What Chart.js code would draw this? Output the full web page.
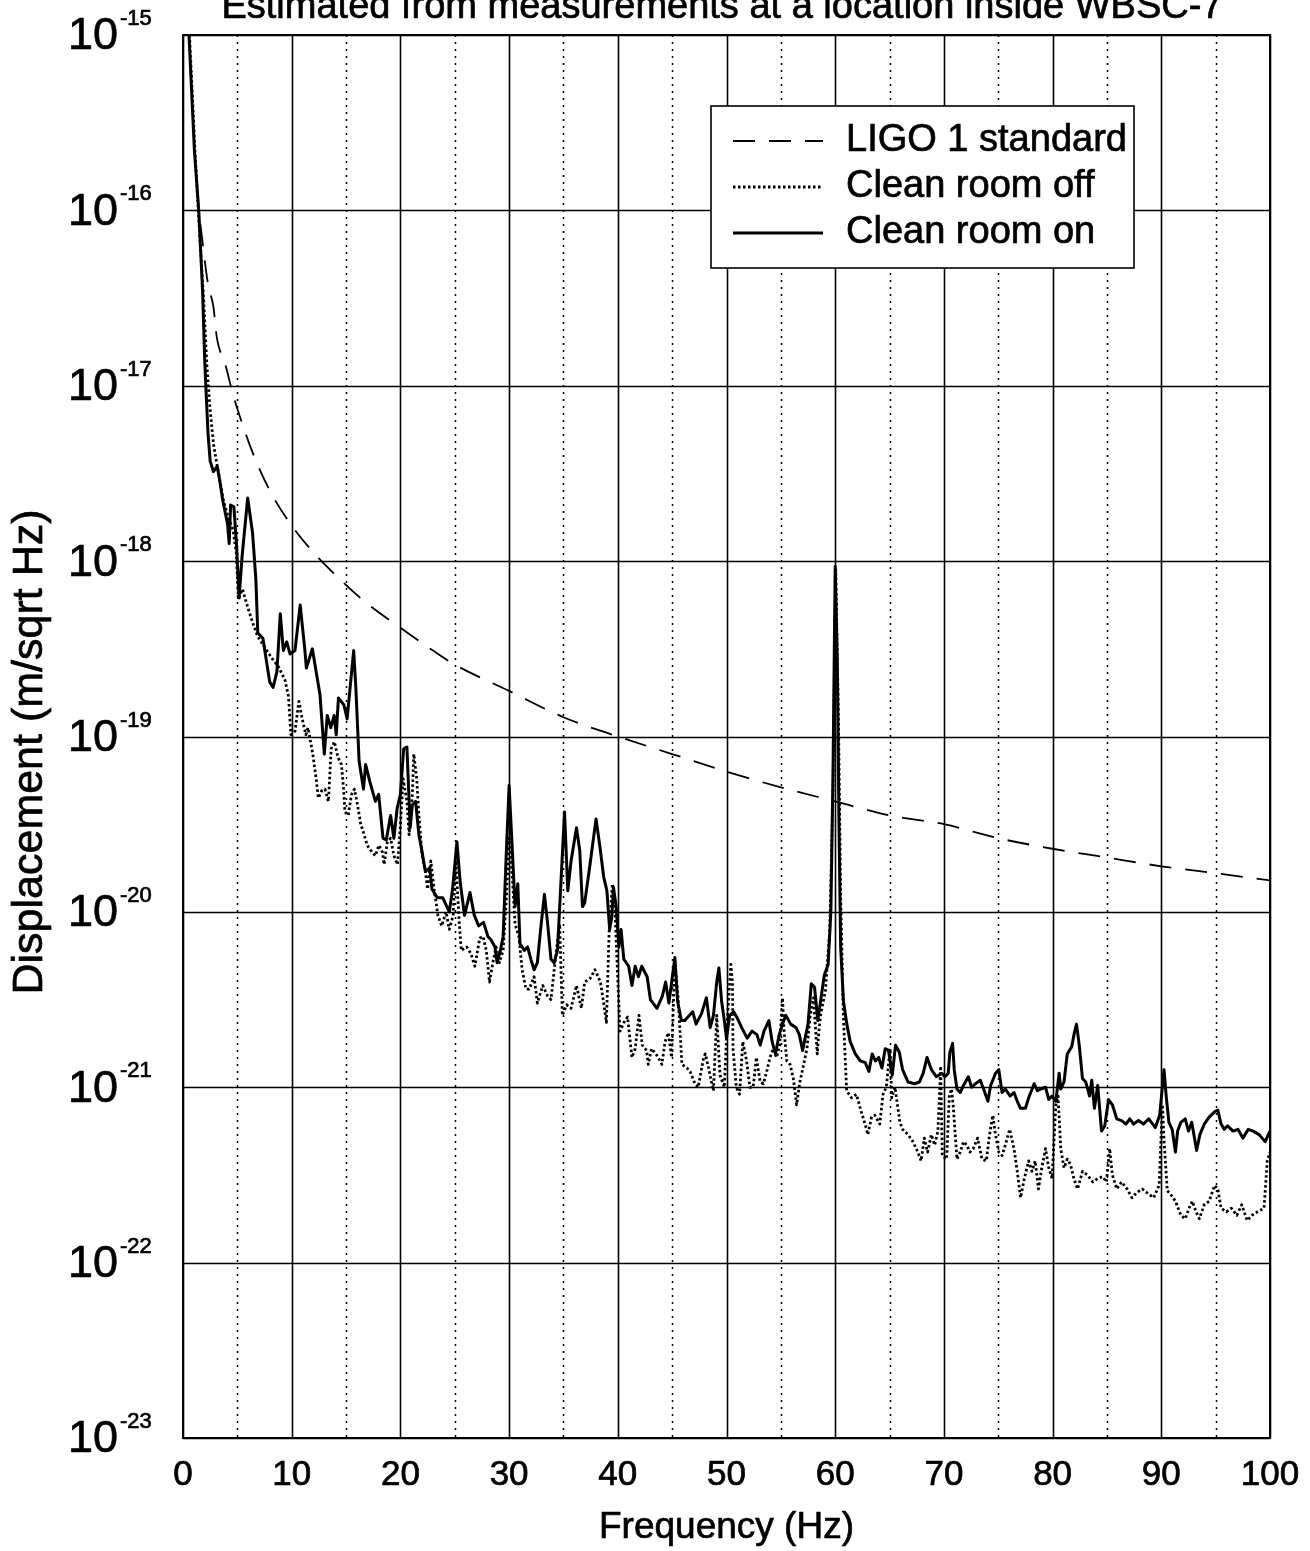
<!DOCTYPE html>
<html>
<head>
<meta charset="utf-8">
<title>Displacement spectrum, WBSC-7</title>
<script src="https://cdn.jsdelivr.net/npm/chart.js@4.4.1/dist/chart.umd.min.js"></script>
<style>
  html, body { margin: 0; padding: 0; background: #fff; }
  #wrap { width: 1310px; height: 1551px; position: relative; }
</style>
</head>
<body>
<div id="wrap"><canvas id="spectrum"></canvas></div>
<script>
// axis ticks
const freqTicks = [0, 10, 20, 30, 40, 50, 60, 70, 80, 90, 100];
const halfTicks = [5, 15, 25, 35, 45, 55, 65, 75, 85, 95];
const decadeExps = [-15, -16, -17, -18, -19, -20, -21, -22, -23];

const seriesNames = ['LIGO 1 standard', 'Clean room off', 'Clean room on'];

// points are [frequency (Hz), log10 of displacement (m/sqrt Hz)]
const ligoStandard = [
  [1.6,-16.08],[2.3,-16.42],[2.8,-16.55],[3.1,-16.72],[3.9,-16.88],[4.6,-17.05],[5.2,-17.17],
  [6.4,-17.38],[8.0,-17.6],[9.8,-17.78],[11.7,-17.93],[14.2,-18.09],[16.7,-18.23],[20,-18.38],
  [23,-18.51],[25,-18.59],[30,-18.74],[35,-18.89],[40,-19.0],[45,-19.1],[50,-19.2],[55,-19.29],
  [60,-19.37],[65,-19.45],[70,-19.5],[75,-19.58],[80,-19.64],[85,-19.69],[90,-19.74],[95,-19.78],[100,-19.82]
];

const cleanRoomOff = [
  [0.6,-15.0],[1.1,-15.66],[1.45,-16.05],[1.9,-16.51],[2.2,-16.89],[2.5,-17.14],[2.8,-17.33],[3.1,-17.44],
  [3.4,-17.54],[3.7,-17.65],[4.15,-17.75],[4.6,-17.82],[4.9,-17.95],[5.1,-18.22],[5.47,-18.16],[5.94,-18.26],
  [6.4,-18.35],[6.88,-18.43],[7.5,-18.49],[8.13,-18.55],[8.76,-18.6],[9.39,-18.68],[9.7,-18.77],[9.93,-18.99],
  [10.3,-18.97],[10.66,-18.8],[10.97,-18.9],[11.3,-18.99],[11.5,-18.95],[11.94,-19.1],[12.25,-19.24],[12.45,-19.35],
  [12.75,-19.31],[13.06,-19.3],[13.38,-19.37],[13.63,-19.07],[13.93,-19.03],[14.26,-19.12],[14.58,-19.16],[14.77,-19.3],
  [14.9,-19.43],[15.2,-19.45],[15.5,-19.33],[15.77,-19.3],[16.0,-19.37],[16.35,-19.5],[16.67,-19.56],[16.94,-19.62],
  [17.4,-19.66],[17.7,-19.68],[18.02,-19.62],[18.35,-19.66],[18.5,-19.73],[18.8,-19.6],[19.1,-19.58],[19.4,-19.68],
  [19.73,-19.73],[19.99,-19.52],[20.25,-19.24],[20.6,-19.37],[20.8,-19.56],[21.1,-19.33],[21.23,-19.1],[21.5,-19.24],
  [21.7,-19.45],[22.0,-19.68],[22.3,-19.77],[22.5,-19.87],[22.8,-19.71],[23.1,-19.87],[23.45,-20.02],[23.8,-20.08],
  [24.2,-20.0],[24.5,-20.1],[24.85,-20.02],[25.1,-19.71],[25.4,-20.05],[25.6,-20.22],[26.1,-20.2],[26.5,-20.24],
  [26.85,-20.31],[27.3,-20.15],[27.6,-20.14],[27.9,-20.22],[28.2,-20.4],[28.5,-20.29],[28.8,-20.2],[29.1,-20.29],
  [29.45,-20.22],[29.75,-19.92],[30.0,-19.58],[30.3,-19.8],[30.55,-20.07],[30.9,-20.14],[31.2,-20.33],[31.55,-20.44],
  [31.85,-20.44],[32.3,-20.37],[32.6,-20.52],[33.1,-20.42],[33.55,-20.48],[33.85,-20.5],[34.35,-20.22],[34.65,-20.07],
  [34.9,-20.59],[35.3,-20.53],[35.7,-20.55],[36.2,-20.42],[36.65,-20.55],[36.95,-20.4],[37.45,-20.38],[37.9,-20.33],
  [38.4,-20.4],[38.7,-20.52],[38.95,-20.63],[39.2,-20.12],[39.5,-19.84],[39.7,-19.93],[39.95,-20.31],[40.2,-20.68],
  [40.65,-20.62],[40.9,-20.6],[41.3,-20.83],[41.6,-20.78],[41.95,-20.59],[42.25,-20.76],[42.65,-20.79],[42.8,-20.87],
  [43.1,-20.78],[43.5,-20.81],[43.8,-20.84],[44.05,-20.87],[44.35,-20.74],[44.65,-20.69],[44.95,-20.83],[45.25,-20.28],
  [45.55,-20.49],[45.9,-20.87],[46.35,-20.89],[46.65,-20.91],[47.1,-20.98],[47.4,-21.0],[47.9,-20.83],[48.05,-20.81],
  [48.35,-20.89],[48.65,-20.98],[48.8,-21.02],[49.1,-20.59],[49.4,-20.93],[49.8,-21.0],[50.1,-20.59],[50.4,-20.3],
  [50.55,-20.4],[50.6,-20.78],[50.9,-21.0],[51.2,-21.04],[51.5,-20.74],[51.85,-20.85],[52.15,-21.0],[52.45,-21.0],
  [52.75,-20.83],[53.1,-20.97],[53.4,-20.98],[53.7,-20.91],[54.0,-20.83],[54.3,-20.78],[54.6,-20.83],[54.9,-20.76],
  [55.15,-20.49],[55.3,-20.68],[55.55,-20.85],[55.85,-20.87],[56.15,-20.95],[56.45,-21.1],[56.75,-20.97],[57.1,-20.87],
  [57.4,-20.78],[57.7,-20.59],[58.0,-20.49],[58.35,-20.81],[58.5,-20.68],[58.65,-20.59],[59.1,-20.45],[59.5,-20.1],
  [59.8,-19.3],[60.05,-18.05],[60.3,-18.9],[60.5,-19.9],[60.75,-20.59],[61.05,-21.02],[61.5,-21.06],[61.95,-21.04],
  [62.4,-21.14],[62.75,-21.21],[63.0,-21.27],[63.35,-21.17],[63.65,-21.16],[64.1,-21.21],[64.4,-21.04],[64.7,-21.0],
  [65.05,-20.78],[65.2,-21.06],[65.5,-21.0],[65.95,-21.2],[66.2,-21.24],[66.7,-21.27],[67.15,-21.31],[67.6,-21.37],
  [67.9,-21.42],[68.2,-21.29],[68.5,-21.37],[68.85,-21.27],[69.15,-21.33],[69.45,-21.25],[69.7,-20.88],[69.85,-21.39],
  [70.25,-21.41],[70.5,-21.05],[70.7,-21.01],[70.85,-21.1],[71.2,-21.41],[71.5,-21.37],[71.8,-21.31],[72.1,-21.33],
  [72.4,-21.37],[72.7,-21.35],[73.1,-21.29],[73.5,-21.41],[73.9,-21.42],[74.2,-21.27],[74.5,-21.16],[74.75,-21.27],
  [75.05,-21.37],[75.35,-21.39],[75.65,-21.33],[76.05,-21.24],[76.45,-21.35],[76.75,-21.48],[77.05,-21.63],[77.4,-21.52],
  [77.8,-21.42],[78.1,-21.48],[78.4,-21.42],[78.7,-21.58],[79.0,-21.46],[79.35,-21.35],[79.65,-21.46],[79.95,-21.52],
  [80.3,-21.1],[80.5,-21.05],[80.75,-21.35],[81.05,-21.46],[81.35,-21.41],[81.65,-21.44],[81.95,-21.52],[82.3,-21.58],
  [82.75,-21.48],[83.2,-21.5],[83.7,-21.54],[84.15,-21.52],[84.6,-21.51],[84.95,-21.54],[85.25,-21.35],[85.5,-21.5],
  [85.9,-21.58],[86.35,-21.54],[86.85,-21.58],[87.3,-21.63],[87.75,-21.6],[88.25,-21.58],[88.85,-21.61],[89.3,-21.63],
  [89.8,-21.56],[90.1,-21.1],[90.25,-21.3],[90.55,-21.59],[90.85,-21.61],[91.3,-21.65],[91.8,-21.73],[92.2,-21.75],
  [92.55,-21.69],[92.85,-21.65],[93.2,-21.71],[93.5,-21.75],[93.95,-21.67],[94.4,-21.65],[94.9,-21.56],[95.2,-21.58],
  [95.5,-21.69],[96.0,-21.71],[96.45,-21.69],[96.95,-21.73],[97.4,-21.67],[97.9,-21.76],[98.35,-21.73],[98.85,-21.71],
  [99.45,-21.69],[99.75,-21.42],[100.0,-21.37]
];

const cleanRoomOn = [
  [0.55,-15.0],[1.05,-15.66],[1.45,-16.0],[1.8,-16.46],[2.0,-16.86],[2.15,-17.07],[2.3,-17.27],[2.5,-17.43],
  [2.8,-17.49],[3.15,-17.46],[3.35,-17.53],[3.65,-17.65],[4.1,-17.79],[4.25,-17.9],[4.38,-17.68],[4.68,-17.69],
  [4.93,-17.91],[5.16,-18.21],[5.44,-17.97],[5.95,-17.64],[6.4,-17.84],[6.7,-18.1],[6.88,-18.41],[7.35,-18.44],
  [7.98,-18.69],[8.29,-18.72],[8.64,-18.63],[8.95,-18.3],[9.23,-18.51],[9.54,-18.46],[9.85,-18.53],[10.3,-18.51],
  [10.78,-18.25],[11.2,-18.5],[11.35,-18.61],[11.9,-18.5],[12.3,-18.65],[12.6,-18.76],[13.0,-19.1],[13.27,-18.88],
  [13.6,-18.95],[13.9,-18.88],[14.1,-18.99],[14.3,-18.78],[14.8,-18.82],[15.1,-18.9],[15.7,-18.51],[15.9,-18.72],
  [16.2,-19.14],[16.6,-19.3],[16.8,-19.16],[17.2,-19.26],[17.7,-19.37],[18.0,-19.33],[18.4,-19.58],[18.7,-19.59],
  [19.1,-19.45],[19.4,-19.58],[19.7,-19.41],[20.0,-19.33],[20.3,-19.07],[20.6,-19.06],[20.9,-19.52],[21.1,-19.39],
  [21.4,-19.37],[21.7,-19.56],[22.0,-19.66],[22.3,-19.77],[22.7,-19.75],[22.9,-19.87],[23.4,-19.92],[23.9,-19.92],
  [24.5,-20.0],[24.8,-19.87],[25.2,-19.6],[25.5,-19.83],[25.9,-20.02],[26.4,-19.89],[26.8,-20.02],[27.2,-20.08],
  [27.65,-20.06],[28.05,-20.14],[28.35,-20.16],[28.7,-20.2],[28.9,-20.29],[29.2,-20.22],[29.45,-20.14],[29.75,-19.65],
  [30.0,-19.28],[30.3,-19.65],[30.55,-19.97],[30.8,-19.84],[31.0,-20.18],[31.4,-20.22],[31.7,-20.2],[32.0,-20.27],
  [32.3,-20.33],[32.6,-20.29],[32.9,-20.1],[33.25,-19.9],[33.55,-20.07],[33.85,-20.27],[34.15,-20.29],[34.45,-20.22],
  [34.67,-19.95],[35.1,-19.43],[35.4,-19.88],[35.7,-19.71],[36.2,-19.52],[36.5,-19.65],[36.75,-19.97],[36.95,-19.95],
  [37.4,-19.75],[38.0,-19.47],[38.4,-19.65],[38.7,-19.8],[39.0,-19.88],[39.25,-20.1],[39.45,-20.03],[39.6,-19.86],
  [39.85,-19.97],[40.1,-20.2],[40.3,-20.1],[40.55,-20.27],[41.0,-20.31],[41.3,-20.42],[41.6,-20.31],[41.9,-20.37],
  [42.2,-20.31],[42.7,-20.37],[43.0,-20.5],[43.6,-20.55],[44.1,-20.48],[44.4,-20.4],[44.7,-20.52],[45.25,-20.26],
  [45.5,-20.51],[45.85,-20.62],[46.15,-20.62],[46.45,-20.6],[46.9,-20.57],[47.2,-20.64],[47.7,-20.58],[48.15,-20.49],
  [48.5,-20.66],[48.8,-20.59],[49.1,-20.4],[49.3,-20.32],[49.55,-20.51],[49.8,-20.62],[50.0,-20.72],[50.3,-20.59],
  [50.65,-20.57],[50.95,-20.6],[51.4,-20.66],[51.9,-20.72],[52.35,-20.68],[52.8,-20.7],[53.1,-20.76],[53.45,-20.68],
  [53.9,-20.62],[54.2,-20.74],[54.5,-20.81],[54.85,-20.7],[55.15,-20.64],[55.45,-20.59],[55.9,-20.64],[56.4,-20.66],
  [56.7,-20.7],[57.0,-20.79],[57.5,-20.64],[57.8,-20.41],[58.1,-20.43],[58.4,-20.62],[58.7,-20.49],[59.0,-20.36],
  [59.35,-20.3],[59.6,-20.0],[59.8,-19.2],[60.0,-18.03],[60.2,-18.6],[60.35,-19.5],[60.5,-20.2],[60.76,-20.51],
  [61.07,-20.64],[61.38,-20.74],[61.85,-20.81],[62.3,-20.85],[62.77,-20.86],[63.1,-20.91],[63.4,-20.81],[63.7,-20.85],
  [64.0,-20.83],[64.3,-20.89],[64.6,-20.78],[64.9,-20.79],[65.25,-20.93],[65.55,-20.76],[65.9,-20.8],[66.2,-20.9],
  [66.7,-20.97],[67.3,-20.98],[67.75,-20.97],[68.1,-20.92],[68.45,-20.83],[68.85,-20.9],[69.3,-20.94],[69.8,-20.92],
  [70.1,-20.94],[70.4,-20.92],[70.55,-20.8],[70.8,-20.75],[70.95,-20.9],[71.2,-21.01],[71.5,-21.03],[71.8,-20.99],
  [72.25,-20.94],[72.55,-21.0],[72.9,-20.98],[73.35,-20.96],[73.65,-21.01],[74.05,-21.08],[74.3,-20.99],[74.75,-20.92],
  [75.05,-20.9],[75.35,-21.03],[75.65,-21.01],[76.1,-21.05],[76.45,-21.03],[76.75,-21.08],[77.05,-21.12],[77.5,-21.12],
  [77.8,-21.06],[78.3,-20.98],[78.6,-21.02],[78.9,-21.01],[79.35,-21.0],[79.65,-21.07],[79.95,-21.05],[80.3,-21.08],
  [80.6,-20.92],[80.75,-21.01],[81.05,-20.97],[81.35,-20.81],[81.75,-20.77],[82.0,-20.69],[82.2,-20.64],[82.45,-20.76],
  [82.75,-20.95],[83.05,-20.97],[83.4,-21.05],[83.6,-20.96],[83.85,-21.12],[84.15,-20.99],[84.5,-21.25],[84.8,-21.22],
  [85.15,-21.07],[85.5,-21.1],[85.9,-21.18],[86.35,-21.19],[86.75,-21.21],[87.1,-21.18],[87.45,-21.21],[87.9,-21.19],
  [88.35,-21.21],[88.85,-21.18],[89.45,-21.23],[89.85,-21.16],[90.25,-20.9],[90.45,-21.05],[90.7,-21.2],[91.0,-21.24],
  [91.3,-21.37],[91.5,-21.25],[91.8,-21.2],[92.2,-21.18],[92.5,-21.25],[92.8,-21.2],[93.25,-21.36],[93.55,-21.27],
  [93.95,-21.21],[94.4,-21.17],[94.9,-21.14],[95.2,-21.13],[95.5,-21.21],[95.8,-21.24],[96.1,-21.22],[96.6,-21.25],
  [97.05,-21.24],[97.5,-21.29],[98.0,-21.24],[98.45,-21.25],[99.0,-21.27],[99.55,-21.31],[100.0,-21.25]
];

const FONT = '"Liberation Sans", Arial, Helvetica, sans-serif';
const toXY = pts => pts.map(([f, lg]) => ({ x: f, y: Math.pow(10, lg) }));

// filled text with a thin outline so it reads as heavy as a photocopied plot
function drawText(ctx, str, x, y, size, align, baseline) {
  ctx.font = size + 'px ' + FONT;
  ctx.textAlign = align;
  ctx.textBaseline = baseline;
  ctx.lineWidth = 0.7;
  ctx.setLineDash([]);
  ctx.fillText(str, x, y);
  ctx.strokeText(str, x, y);
}

// grid, frame, tick labels, titles and the boxed legend
const paperPlot = {
  id: 'paperPlot',
  beforeDatasetsDraw(chart) {
    const { ctx, chartArea: a, scales: { x, y } } = chart;
    ctx.save();
    ctx.strokeStyle = '#000';
    ctx.lineWidth = 1.5;
    ctx.setLineDash([2, 5]);
    halfTicks.forEach(f => {
      const px = Math.round(x.getPixelForValue(f)) + 0.5;
      ctx.beginPath(); ctx.moveTo(px, a.top); ctx.lineTo(px, a.bottom); ctx.stroke();
    });
    ctx.setLineDash([]);
    ctx.lineWidth = 1.6;
    freqTicks.forEach(f => {
      const px = Math.round(x.getPixelForValue(f)) + 0.5;
      ctx.beginPath(); ctx.moveTo(px, a.top); ctx.lineTo(px, a.bottom); ctx.stroke();
    });
    decadeExps.forEach(k => {
      const py = Math.round(y.getPixelForValue(Math.pow(10, k))) + 0.5;
      ctx.beginPath(); ctx.moveTo(a.left, py); ctx.lineTo(a.right, py); ctx.stroke();
    });
    ctx.restore();
  },
  afterDraw(chart) {
    const { ctx, chartArea: a, scales: { x, y } } = chart;
    ctx.save();
    ctx.fillStyle = '#000';
    ctx.strokeStyle = '#000';

    // frame
    ctx.lineWidth = 2;
    ctx.strokeRect(a.left, a.top, a.right - a.left, a.bottom - a.top);

    // y tick labels as 10 with a superscript exponent
    decadeExps.forEach(k => {
      const py = y.getPixelForValue(Math.pow(10, k));
      drawText(ctx, '10', 118, py + 2, 45, 'right', 'middle');
      drawText(ctx, '-' + Math.abs(k), 120, py - 10, 22, 'left', 'alphabetic');
    });

    // x tick labels
    freqTicks.forEach(f => {
      drawText(ctx, String(f), x.getPixelForValue(f), a.bottom + 37, 35, 'center', 'middle');
    });

    // axis titles and the heading
    drawText(ctx, 'Frequency (Hz)', (a.left + a.right) / 2, a.bottom + 90, 37, 'center', 'middle');
    ctx.save();
    ctx.translate(30, 752);
    ctx.rotate(-Math.PI / 2);
    drawText(ctx, 'Displacement (m/sqrt Hz)', 0, 0, 43, 'center', 'middle');
    ctx.restore();
    drawText(ctx, 'Estimated from measurements at a location inside WBSC-7', 722, 18, 38, 'center', 'alphabetic');

    // legend box
    const bx = 711, by = 106, bw = 423, bh = 162;
    ctx.fillStyle = '#fff';
    ctx.fillRect(bx, by, bw, bh);
    ctx.lineWidth = 1.6;
    ctx.strokeRect(bx, by, bw, bh);
    ctx.fillStyle = '#000';
    const rows = [141, 187, 233];
    chart.data.datasets.forEach((ds, i) => {
      const ry = rows[i];
      ctx.setLineDash(ds.borderDash || []);
      ctx.lineWidth = ds.borderWidth;
      ctx.beginPath(); ctx.moveTo(733, ry); ctx.lineTo(823, ry); ctx.stroke();
      drawText(ctx, ds.label, 846, ry, 38, 'left', 'middle');
    });
    ctx.restore();
  }
};

new Chart(document.getElementById('spectrum'), {
  type: 'line',
  data: {
    datasets: [
      { label: seriesNames[0], data: toXY(ligoStandard), borderColor: '#000', borderWidth: 1.8,
        borderDash: [22, 14], cubicInterpolationMode: 'monotone', order: 2 },
      { label: seriesNames[1], data: toXY(cleanRoomOff), borderColor: '#000', borderWidth: 2.8,
        borderDash: [2.5, 2.5], order: 1 },
      { label: seriesNames[2], data: toXY(cleanRoomOn), borderColor: '#000', borderWidth: 3, order: 0 }
    ]
  },
  options: {
    responsive: true,
    maintainAspectRatio: false,
    animation: false,
    layout: { padding: { left: 183, right: 40, top: 35, bottom: 113 } },
    elements: { point: { radius: 0 }, line: { tension: 0, borderJoinStyle: 'round' } },
    plugins: { legend: { display: false }, tooltip: { enabled: false } },
    scales: {
      x: { type: 'linear', min: 0, max: 100, display: false },
      y: { type: 'logarithmic', min: 1e-23, max: 1e-15, display: false }
    }
  },
  plugins: [paperPlot]
});
</script>
</body>
</html>
